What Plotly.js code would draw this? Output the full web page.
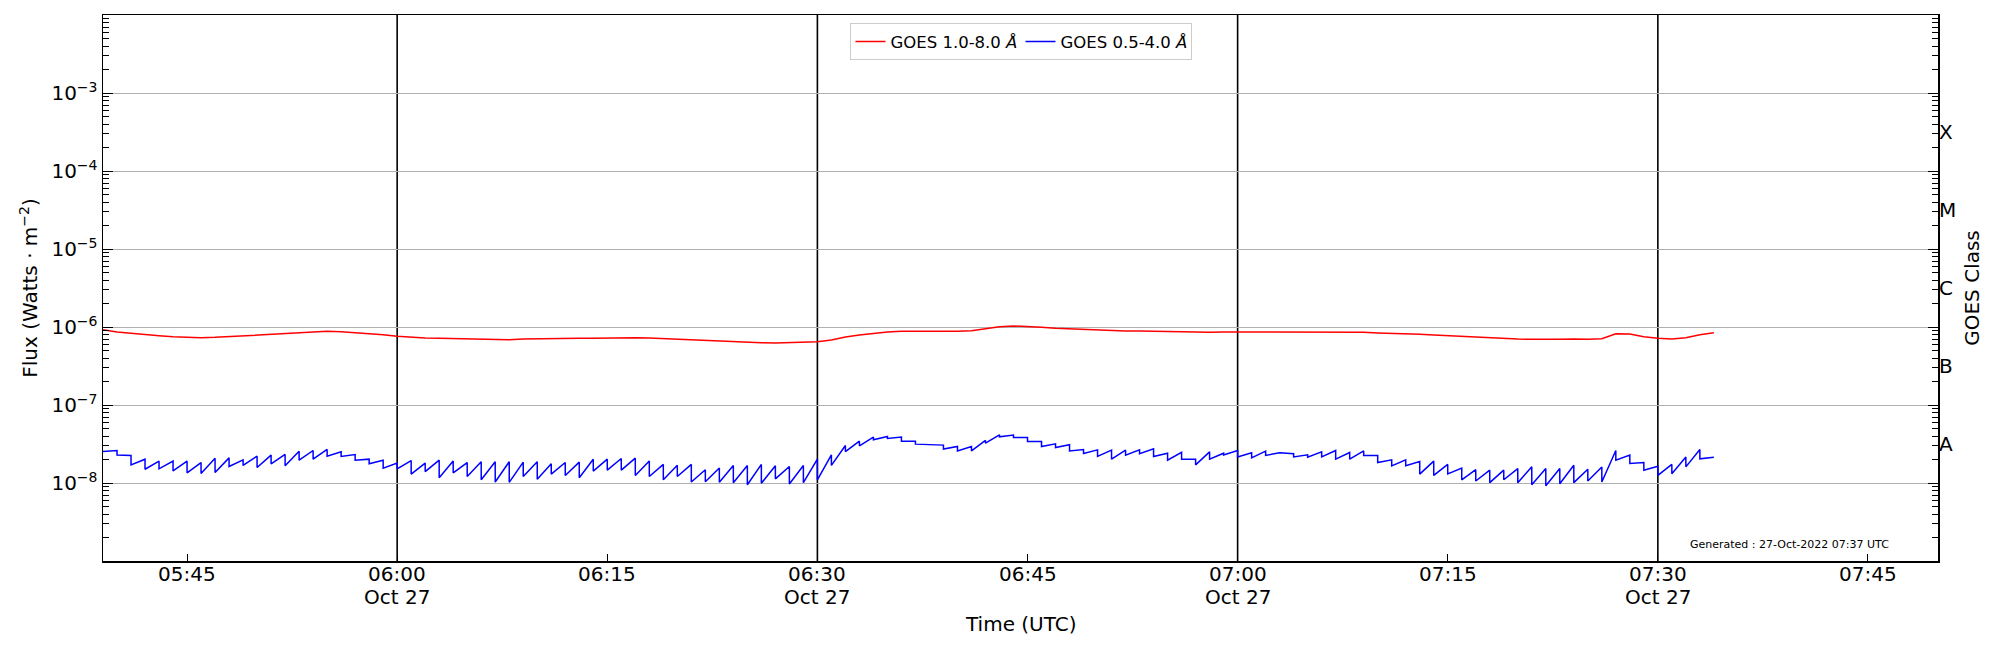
<!DOCTYPE html>
<html>
<head>
<meta charset="utf-8">
<script src="https://cdn.plot.ly/plotly-3.0.1.min.js"></script>
<style>
body { margin: 0; background: white; }
#goes { width: 2000px; height: 650px; }
</style>
</head>
<body>
<div id="goes"></div>
<script>
var day = "2022-10-27 ";

// one sample per minute, 05:39 -> 07:34
var times = [
	"05:39",
	"05:40","05:41","05:42","05:43","05:44","05:45","05:46","05:47","05:48","05:49",
	"05:50","05:51","05:52","05:53","05:54","05:55","05:56","05:57","05:58","05:59",
	"06:00","06:01","06:02","06:03","06:04","06:05","06:06","06:07","06:08","06:09",
	"06:10","06:11","06:12","06:13","06:14","06:15","06:16","06:17","06:18","06:19",
	"06:20","06:21","06:22","06:23","06:24","06:25","06:26","06:27","06:28","06:29",
	"06:30","06:31","06:32","06:33","06:34","06:35","06:36","06:37","06:38","06:39",
	"06:40","06:41","06:42","06:43","06:44","06:45","06:46","06:47","06:48","06:49",
	"06:50","06:51","06:52","06:53","06:54","06:55","06:56","06:57","06:58","06:59",
	"07:00","07:01","07:02","07:03","07:04","07:05","07:06","07:07","07:08","07:09",
	"07:10","07:11","07:12","07:13","07:14","07:15","07:16","07:17","07:18","07:19",
	"07:20","07:21","07:22","07:23","07:24","07:25","07:26","07:27","07:28","07:29",
	"07:30","07:31","07:32","07:33","07:34"
];

// GOES 1.0-8.0 A
var xrsb = [
	9.24e-7,
	8.63e-7,8.30e-7,7.97e-7,7.74e-7,7.52e-7,7.37e-7,7.30e-7,7.37e-7,7.52e-7,7.66e-7,
	7.82e-7,8.05e-7,8.21e-7,8.45e-7,8.63e-7,8.80e-7,8.71e-7,8.45e-7,8.30e-7,7.97e-7,
	7.59e-7,7.37e-7,7.23e-7,7.16e-7,7.09e-7,7.02e-7,6.95e-7,6.88e-7,6.88e-7,7.02e-7,
	7.09e-7,7.16e-7,7.16e-7,7.16e-7,7.16e-7,7.23e-7,7.30e-7,7.30e-7,7.23e-7,7.09e-7,
	6.95e-7,6.81e-7,6.68e-7,6.55e-7,6.48e-7,6.36e-7,6.29e-7,6.23e-7,6.29e-7,6.29e-7,
	6.48e-7,6.81e-7,7.44e-7,7.89e-7,8.30e-7,8.63e-7,8.80e-7,8.80e-7,8.80e-7,8.71e-7,
	8.80e-7,8.97e-7,9.43e-7,1.01e-6,1.03e-6,1.02e-6,9.90e-7,9.61e-7,9.43e-7,9.24e-7,
	9.06e-7,8.97e-7,8.89e-7,8.89e-7,8.80e-7,8.71e-7,8.63e-7,8.45e-7,8.54e-7,8.63e-7,
	8.63e-7,8.54e-7,8.63e-7,8.63e-7,8.63e-7,8.63e-7,8.71e-7,8.71e-7,8.71e-7,8.54e-7,
	8.38e-7,8.30e-7,8.13e-7,8.05e-7,7.89e-7,7.74e-7,7.52e-7,7.37e-7,7.20e-7,7.09e-7,
	7.02e-7,6.95e-7,6.88e-7,6.95e-7,7.02e-7,6.95e-7,7.09e-7,8.21e-7,8.13e-7,7.52e-7,
	7.16e-7,7.02e-7,7.30e-7,7.97e-7,8.45e-7
];

// GOES 0.5-4.0 A : value reached just before the minute step ...
var xrsaBefore = [
	null,
	2.61e-8,2.26e-8,2.02e-8,1.91e-8,1.91e-8,1.91e-8,1.83e-8,2.08e-8,2.10e-8,1.98e-8,
	2.21e-8,2.28e-8,2.32e-8,2.56e-8,2.61e-8,2.69e-8,2.51e-8,2.32e-8,2.02e-8,1.96e-8,
	1.80e-8,1.94e-8,1.80e-8,1.96e-8,1.91e-8,1.83e-8,1.87e-8,1.87e-8,1.87e-8,1.85e-8,
	1.87e-8,1.76e-8,1.83e-8,1.85e-8,2.02e-8,2.02e-8,2.06e-8,2.08e-8,1.91e-8,1.73e-8,
	1.69e-8,1.73e-8,1.48e-8,1.56e-8,1.68e-8,1.68e-8,1.73e-8,1.66e-8,1.63e-8,1.68e-8,
	2.02e-8,2.30e-8,3.03e-8,3.44e-8,3.88e-8,3.95e-8,3.88e-8,3.44e-8,3.09e-8,3.06e-8,
	2.94e-8,2.94e-8,3.51e-8,4.15e-8,4.11e-8,3.84e-8,3.40e-8,3.18e-8,3.09e-8,2.69e-8,
	2.66e-8,2.64e-8,2.64e-8,2.66e-8,2.74e-8,2.41e-8,2.48e-8,2.02e-8,2.51e-8,2.41e-8,
	2.61e-8,2.44e-8,2.56e-8,2.44e-8,2.37e-8,2.30e-8,2.51e-8,2.61e-8,2.46e-8,2.58e-8,
	2.26e-8,1.98e-8,1.98e-8,1.89e-8,1.91e-8,1.73e-8,1.55e-8,1.48e-8,1.46e-8,1.46e-8,
	1.53e-8,1.61e-8,1.53e-8,1.53e-8,1.69e-8,1.50e-8,1.60e-8,2.61e-8,2.28e-8,1.83e-8,
	1.64e-8,1.73e-8,2.16e-8,2.69e-8,2.14e-8
];

// ... and the value just after it
var xrsaAfter = [
	2.53e-8,
	2.28e-8,1.71e-8,1.50e-8,1.52e-8,1.43e-8,1.35e-8,1.32e-8,1.36e-8,1.63e-8,1.68e-8,
	1.58e-8,1.76e-8,1.66e-8,1.96e-8,2.02e-8,2.21e-8,2.19e-8,1.96e-8,1.76e-8,1.55e-8,
	1.52e-8,1.30e-8,1.40e-8,1.17e-8,1.35e-8,1.21e-8,1.10e-8,1.03e-8,1.02e-8,1.21e-8,
	1.12e-8,1.30e-8,1.25e-8,1.17e-8,1.42e-8,1.46e-8,1.46e-8,1.25e-8,1.21e-8,1.10e-8,
	1.21e-8,1.03e-8,1.04e-8,1.02e-8,1.01e-8,0.95e-8,0.99e-8,1.13e-8,0.97e-8,1.01e-8,
	1.10e-8,1.68e-8,2.53e-8,3.00e-8,3.58e-8,3.72e-8,3.44e-8,3.15e-8,3.06e-8,2.72e-8,
	2.58e-8,2.58e-8,3.24e-8,3.91e-8,3.84e-8,3.40e-8,2.94e-8,2.85e-8,2.58e-8,2.39e-8,
	2.19e-8,2.02e-8,2.28e-8,2.37e-8,2.19e-8,1.96e-8,2.02e-8,1.71e-8,2.02e-8,2.28e-8,
	2.16e-8,2.10e-8,2.26e-8,2.44e-8,2.16e-8,2.14e-8,2.16e-8,2.02e-8,2.02e-8,2.26e-8,
	1.83e-8,1.66e-8,1.66e-8,1.30e-8,1.25e-8,1.31e-8,1.10e-8,1.06e-8,1.01e-8,1.10e-8,
	1.01e-8,0.95e-8,0.92e-8,0.98e-8,1.01e-8,1.06e-8,1.03e-8,1.96e-8,1.78e-8,1.46e-8,
	1.25e-8,1.31e-8,1.61e-8,2.04e-8,2.14e-8
];

var tickTimes = ["05:45","06:00","06:15","06:30","06:45","07:00","07:15","07:30","07:45"];
var tickDates = ["","Oct 27","","Oct 27","","Oct 27","","Oct 27",""];
var gridTimes = ["06:00","06:30","07:00","07:30"];

var fluxTicks = [1e-8, 1e-7, 1e-6, 1e-5, 1e-4, 1e-3];
var fluxLabels = ["10<sup>\u22128</sup>","10<sup>\u22127</sup>","10<sup>\u22126</sup>",
	"10<sup>\u22125</sup>","10<sup>\u22124</sup>","10<sup>\u22123</sup>"];
var classTicks = [3.16e-8, 3.16e-7, 3.16e-6, 3.16e-5, 3.16e-4];
var classLabels = ["A", "B", "C", "M", "X"];

var xTitle = "Time (UTC)";
var generated = "Generated : 27-Oct-2022 07:37 UTC";

function stamp(t)
{
	return day + t;
}

function stamps(list)
{
	var out = [];
	for (var i = 0; i < list.length; i++) {
		out.push(stamp(list[i]));
	}
	return out;
}

// sawtooth: each minute has the value before the step and the one after
function shortChannel()
{
	var x = [];
	var y = [];
	for (var i = 0; i < times.length; i++) {
		if (xrsaBefore[i] !== null) {
			x.push(stamp(times[i]));
			y.push(xrsaBefore[i]);
		}
		x.push(stamp(times[i]));
		y.push(xrsaAfter[i]);
	}
	return [x, y];
}

function minorTicks()
{
	var v = [];
	for (var e = -9; e < -2; e++) {
		for (var k = 2; k < 10; k++) {
			v.push(k * Math.pow(10, e));
		}
	}
	return v;
}

function main()
{
	var font = "DejaVu Sans, sans-serif";
	var s = shortChannel();

	var traces = [
		{
			x: stamps(times), y: xrsb, type: "scatter", mode: "lines",
			name: "GOES 1.0-8.0 <i>\u00c5</i>",
			line: {color: "#ff0000", width: 1.5}
		},
		{
			x: s[0], y: s[1], type: "scatter", mode: "lines",
			name: "GOES 0.5-4.0 <i>\u00c5</i>",
			line: {color: "#0000ff", width: 1.5}
		},
		// keeps the class axis alive on the right
		{x: [], y: [], yaxis: "y2", showlegend: false, hoverinfo: "skip"}
	];

	var shapes = [];
	var g = stamps(gridTimes);
	for (var i = 0; i < g.length; i++) {
		shapes.push({
			type: "line", xref: "x", yref: "paper",
			x0: g[i], x1: g[i], y0: 0, y1: 1,
			line: {color: "black", width: 1.6}, layer: "below"
		});
	}

	// time labels under the axis, two rows like matplotlib's date formatter
	var notes = [];
	for (var j = 0; j < tickTimes.length; j++) {
		notes.push({
			xref: "x", yref: "paper", x: stamp(tickTimes[j]), y: -0.0247,
			xanchor: "center", yanchor: "middle", showarrow: false,
			text: tickTimes[j], font: {family: font, size: 20, color: "black"}
		});
		if (tickDates[j] !== "") {
			notes.push({
				xref: "x", yref: "paper", x: stamp(tickTimes[j]), y: -0.0654,
				xanchor: "center", yanchor: "middle", showarrow: false,
				text: tickDates[j], font: {family: font, size: 20, color: "black"}
			});
		}
	}
	notes.push({
		xref: "paper", yref: "paper", x: 0.5, y: -0.1154,
		xanchor: "center", yanchor: "middle", showarrow: false,
		text: xTitle, font: {family: font, size: 20, color: "black"}
	});
	notes.push({
		xref: "paper", yref: "paper", x: 0.9744, y: 0.031,
		xanchor: "right", yanchor: "middle", showarrow: false,
		text: generated, font: {family: font, size: 11, color: "black"}
	});

	var layout = {
		width: 2000, height: 650,
		margin: {l: 103, r: 62, t: 15, b: 89},
		paper_bgcolor: "white", plot_bgcolor: "white",
		font: {family: font, size: 20, color: "black"},
		showlegend: true,
		legend: {
			orientation: "h", x: 0.5, xanchor: "center", y: 0.985, yanchor: "top",
			bgcolor: "white", bordercolor: "#cccccc", borderwidth: 1,
			entrywidth: 125, entrywidthmode: "pixels",
			font: {family: font, size: 16.5, color: "black"}
		},
		xaxis: {
			type: "date",
			range: [stamp("05:39"), stamp("07:50")],
			tickmode: "array", tickvals: stamps(tickTimes), showticklabels: false,
			ticks: "inside", ticklen: 7, tickwidth: 1, tickcolor: "black",
			showgrid: false, zeroline: false,
			showline: true, linecolor: "black", linewidth: 1.5, mirror: true
		},
		yaxis: {
			type: "log", range: [-9, -2],
			tickmode: "array", tickvals: fluxTicks, ticktext: fluxLabels,
			ticks: "inside", ticklen: 10, tickwidth: 1, tickcolor: "black",
			minor: {tickmode: "array", tickvals: minorTicks(), ticks: "inside",
				ticklen: 6, tickwidth: 1, tickcolor: "black", showgrid: false},
			showgrid: true, gridcolor: "#b0b0b0", gridwidth: 1, zeroline: false,
			showline: true, linecolor: "black", linewidth: 1.5, mirror: "allticks",
			title: {text: "Flux (Watts \u00b7 m<sup>\u22122</sup>)",
				font: {family: font, size: 20}, standoff: 8}
		},
		yaxis2: {
			type: "log", range: [-9, -2], overlaying: "y", side: "right", anchor: "x",
			tickmode: "array", tickvals: classTicks, ticktext: classLabels,
			ticks: "", showgrid: false, zeroline: false, showline: false,
			title: {text: "GOES Class", font: {family: font, size: 20}, standoff: 9}
		},
		shapes: shapes,
		annotations: notes
	};

	Plotly.newPlot("goes", traces, layout, {displayModeBar: false, staticPlot: true});
}

main();
</script>
</body>
</html>
